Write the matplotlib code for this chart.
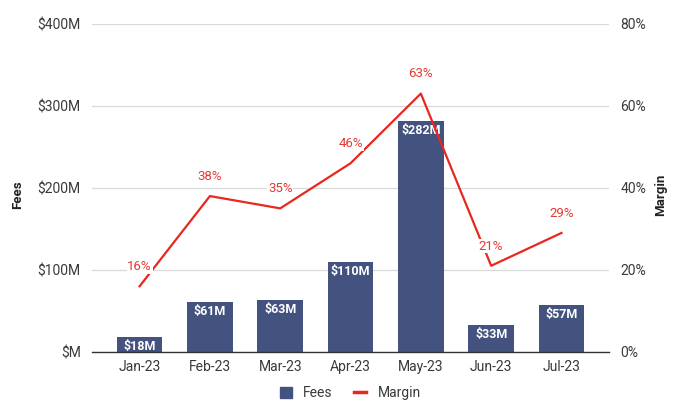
import matplotlib.pyplot as plt
import numpy as np
from matplotlib.lines import Line2D
from matplotlib.patches import Patch

plt.rcParams["font.family"] = ["Roboto", "DejaVu Sans"]

months = ["Jan-23", "Feb-23", "Mar-23", "Apr-23", "May-23", "Jun-23", "Jul-23"]
fees = [18, 61, 63, 110, 282, 33, 57]  # $M
margin = [16, 38, 35, 46, 63, 21, 29]  # %

bar_color = "#44527F"
line_color = "#E8271F"
text_color = "#3A3A3A"

fig = plt.figure(figsize=(6.8, 4.12), dpi=100)
ax = fig.add_axes([0.135, 0.146, 0.761, 0.796])
ax2 = ax.twinx()

x = np.arange(len(months))
ax.bar(x, fees, width=0.65, color=bar_color, zorder=2)
for xi, v in zip(x, fees):
    ax.text(xi, v - 4, f"${v}M", ha="center", va="top", color="white",
            fontsize=9, fontweight="bold", zorder=3)

ax2.plot(x, margin, color=line_color, linewidth=1.6, zorder=4)
for xi, v in zip(x, margin):
    ax2.text(xi, v + 3.2, f"{v}%", ha="center", va="bottom", color="#E53935",
             fontsize=9.5, zorder=5,
             bbox=dict(boxstyle="square,pad=0.05", facecolor="white",
                       edgecolor="none"))

ax.set_xlim(-0.68, 6.68)
ax.set_ylim(0, 400)
ax2.set_ylim(0, 80)
ax.set_yticks([0, 100, 200, 300, 400])
ax.set_yticklabels(["$M", "$100M", "$200M", "$300M", "$400M"])
ax2.set_yticks([0, 20, 40, 60, 80])
ax2.set_yticklabels([f"{t}%" for t in [0, 20, 40, 60, 80]])
ax.set_xticks(x)
ax.set_xticklabels(months)

ax.grid(axis="y", color="#D9D9D9", linewidth=0.9, zorder=0)
ax.set_axisbelow(True)
for a in (ax, ax2):
    for s in a.spines.values():
        s.set_visible(False)
    a.tick_params(length=0, labelsize=10, colors=text_color, pad=8)
ax.spines["bottom"].set_visible(True)
ax.spines["bottom"].set_color("#333333")
ax.spines["bottom"].set_linewidth(1.0)
ax.tick_params(axis="x", pad=6)

ax.set_zorder(ax2.get_zorder() - 1)
ax.patch.set_visible(False)

fig.text(0.026, 0.527, "Fees", rotation=90, ha="center", va="center",
         fontsize=9.5, fontweight="bold", color="#222222")
fig.text(0.972, 0.527, "Margin", rotation=90, ha="center", va="center",
         fontsize=9.5, fontweight="bold", color="#222222")

handles = [Patch(color=bar_color, label="Fees"),
           Line2D([0], [0], color=line_color, linewidth=2.5, label="Margin")]
fig.legend(handles=handles, loc="center", bbox_to_anchor=(0.515, 0.045), ncol=2,
           frameon=False, fontsize=10, handlelength=0.9, handleheight=0.9,
           columnspacing=1.5, handletextpad=0.8, labelcolor=text_color)

fig.savefig("out.png", dpi=100, facecolor="white")
